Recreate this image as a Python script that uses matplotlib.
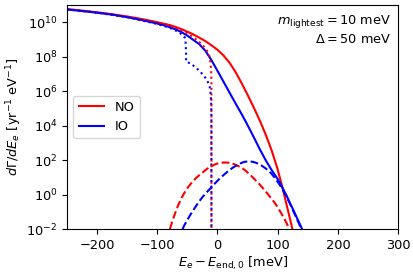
import numpy as np
import matplotlib
matplotlib.use("Agg")
import matplotlib.pyplot as plt
from matplotlib.ticker import NullLocator

# values: x in meV, y given as log10(dGamma/dE)
no_total_x = [-250, -225, -200, -175, -150, -125, -100, -90, -80, -70, -60, -50, -40, -30, -20, -10,
              0, 10, 20, 30, 40, 50, 60, 70, 80, 90, 100, 105, 110, 115, 120, 125]
no_total_logy = [10.76, 10.67, 10.57, 10.46, 10.33, 10.18, 10.0, 9.92, 9.84, 9.73, 9.60, 9.45, 9.29, 9.10, 8.90, 8.66,
                 8.40, 8.07, 7.65, 7.11, 6.47, 5.79, 5.07, 4.32, 3.49, 2.56, 1.46, 0.79, 0.11, -0.62, -1.34, -2.07]

io_total_x = [-250, -225, -200, -175, -150, -125, -100, -90, -80, -70, -60, -50, -40, -30, -20, -10,
              0, 7, 10, 20, 30, 40, 50, 60, 70, 80, 90, 100, 106, 110, 115, 120, 125, 130, 135, 140]
io_total_logy = [10.74, 10.65, 10.55, 10.44, 10.29, 10.12, 9.92, 9.83, 9.72, 9.59, 9.43, 9.22, 8.97, 8.72, 8.34, 7.80,
                 7.18, 6.74, 6.55, 5.92, 5.29, 4.68, 4.03, 3.35, 2.65, 2.0, 1.42, 0.9, 0.54, 0.26, -0.08, -0.46, -0.82, -1.2, -1.58, -1.96]

no_bare_x = [-250, -200, -150, -100, -80, -70, -60, -50, -40, -30, -23, -18, -15, -13.5, -12.5, -11.5, -10.8, -10.3, -10.05, -10.0]
no_bare_logy = [10.76, 10.57, 10.32, 9.98, 9.80, 9.69, 9.55, 9.36, 9.13, 8.85, 8.6, 8.38, 8.2, 8.05, 7.85, 7.6, 7.35, 7.0, 6.5, -3]

io_bare_x = [-250, -200, -150, -100, -80, -70, -62, -57, -54, -53.3, -52.5, -52.1, -52.0, -45.3, -37, -28.7, -17.6, -13.1, -11.5, -10.5, -10.1, -10.0]
io_bare_logy = [10.74, 10.55, 10.29, 9.9, 9.68, 9.53, 9.36, 9.22, 9.1, 9.0, 8.6, 8.1, 7.7, 7.62, 7.4, 7.14, 6.67, 6.28, 5.9, 5.4, 4.8, -3]

no_cnb_x = [-79, -75, -70, -65, -60, -55, -50, -45, -40, -35, -30, -25, -20, -15, -10, -5, 0, 5, 10, 15, 20,
            25, 30, 35, 40, 46, 50, 55, 60, 65, 70, 75, 80, 85, 90, 96, 100, 105, 110, 115, 119]
no_cnb_logy = [-2.0, -1.55, -1.05, -0.6, -0.22, 0.1, 0.37, 0.6, 0.8, 0.98, 1.13, 1.27, 1.42, 1.55, 1.65, 1.74, 1.8, 1.84, 1.86, 1.86, 1.84,
               1.8, 1.73, 1.65, 1.55, 1.41, 1.28, 1.12, 0.95, 0.77, 0.59, 0.39, 0.18, -0.03, -0.25, -0.52, -0.74, -1.03, -1.34, -1.67, -1.98]

io_cnb_x = [-58, -55, -50, -45, -40, -35, -30, -25, -20, -15, -10, -5, 0, 5, 10, 15, 20, 25, 30, 35, 40,
            45, 50, 55, 60, 65, 70, 75, 80, 85, 90, 95, 100, 105, 110, 115, 120, 125, 130, 135, 140]
io_cnb_logy = [-2.0, -1.78, -1.47, -1.17, -0.9, -0.63, -0.38, -0.15, 0.05, 0.24, 0.43, 0.62, 0.8, 0.97, 1.13, 1.28, 1.42, 1.55, 1.66, 1.76, 1.84,
               1.9, 1.92, 1.92, 1.89, 1.83, 1.75, 1.64, 1.52, 1.38, 1.2, 0.98, 0.74, 0.48, 0.18, -0.15, -0.5, -0.88, -1.27, -1.65, -2.05]

yticks = [1e-2, 1e0, 1e2, 1e4, 1e6, 1e8, 1e10]
xticks = [-200, -100, 0, 100, 200, 300]

plt.rcParams['font.size'] = 9.3
plt.rcParams['mathtext.fontset'] = 'dejavusans'

fig = plt.figure(figsize=(4.13, 2.75), dpi=100)
ax = fig.add_axes([0.162, 0.167, 0.802, 0.815])


def pw(v):
    return 10.0 ** np.array(v)


ax.plot(no_total_x, pw(no_total_logy), color='red', lw=1.5, label='NO')
ax.plot(io_total_x, pw(io_total_logy), color='blue', lw=1.5, label='IO')
ax.plot(no_bare_x, pw(no_bare_logy), color='red', lw=1.5, ls=':')
ax.plot(io_bare_x, pw(io_bare_logy), color='blue', lw=1.5, ls=':')
ax.plot(no_cnb_x, pw(no_cnb_logy), color='red', lw=1.5, ls='--')
ax.plot(io_cnb_x, pw(io_cnb_logy), color='blue', lw=1.5, ls='--')

ax.set_yscale('log')
ax.set_xlim(-250, 300)
ax.set_ylim(1e-2, 1e11)
ax.set_yticks(yticks)
ax.yaxis.set_minor_locator(NullLocator())
ax.set_xticks(xticks)

ax.set_xlabel(r'$E_e - E_{\rm end,0}$ [meV]', labelpad=2)
ax.set_ylabel(r'$d\Gamma/dE_e$ [yr$^{-1}$ eV$^{-1}$]', labelpad=2)

ax.text(0.98, 0.965, r'$m_{\rm lightest} = 10$ meV' + '\n' + r'$\Delta = 50$ meV',
        transform=ax.transAxes, ha='right', va='top', linespacing=1.3)

ax.legend(loc='center left', handlelength=2.0)

fig.savefig('out.png', dpi=100)
